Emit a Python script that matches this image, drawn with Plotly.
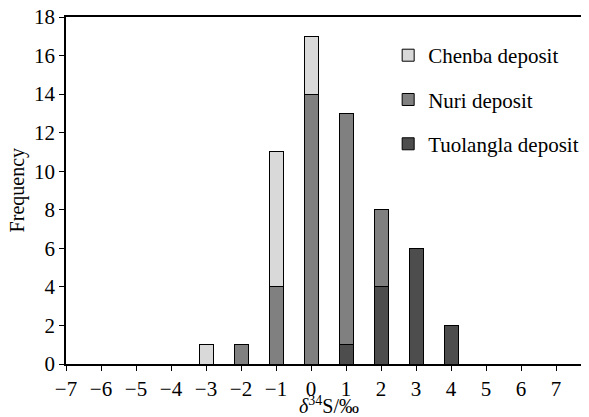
import plotly.graph_objects as go

bins = [-3, -2, -1, 0, 1, 2, 3, 4]
tuolangla = [0, 0, 0, 0, 1, 4, 6, 2]
nuri = [0, 1, 4, 14, 12, 4, 0, 0]
chenba = [1, 0, 7, 3, 0, 0, 0, 0]
x_ticks = list(range(-7, 8))
y_ticks = list(range(0, 19, 2))

font = "Liberation Serif"
fig = go.Figure()
series = [
    ("Tuolangla deposit", tuolangla, "#4d4d4d", 3),
    ("Nuri deposit", nuri, "#808080", 2),
    ("Chenba deposit", chenba, "#d9d9d9", 1),
]
for name, vals, col, rank in series:
    fig.add_trace(go.Bar(
        x=bins, y=vals, name=name, width=0.4, legendgroup=name, legendrank=rank,
        marker=dict(color=col, line=dict(color="black", width=1)),
    ))

# page body has an 8px margin: figure is 581x409 so that it fills the 589x417 window
fig.update_layout(
    barmode="stack",
    width=581, height=409,
    margin=dict(l=58, r=0, t=9, b=53),
    paper_bgcolor="white", plot_bgcolor="white",
    font=dict(family=font, size=21, color="black"),
    showlegend=True,
    legend=dict(
        x=0.616, y=0.948, xanchor="left", yanchor="top",
        traceorder="grouped", tracegroupgap=14,
        font=dict(family=font, size=21), bgcolor="rgba(0,0,0,0)",
    ),
    xaxis=dict(
        range=[-7, 7.94], tickvals=x_ticks,
        ticktext=[str(v).replace("-", "\u2212") for v in x_ticks],
        showline=True, linecolor="black", linewidth=1.5, mirror=True,
        ticks="outside", ticklen=5, tickcolor="black",
        showgrid=False, zeroline=False, automargin=False,
        tickfont=dict(family=font, size=21), ticklabeloverflow="allow",
    ),
    yaxis=dict(
        range=[0, 18], tickvals=y_ticks,
        showline=True, linecolor="black", linewidth=1.5,
        ticks="outside", ticklen=5, tickcolor="black",
        showgrid=False, zeroline=False, automargin=False,
        tickfont=dict(family=font, size=21), ticklabeloverflow="allow",
    ),
    annotations=[
        dict(text="<i>δ</i><sup>34</sup>S/‰", xref="paper", yref="paper",
             x=0.503, y=-0.119, xanchor="center", yanchor="middle",
             showarrow=False, font=dict(family=font, size=20)),
        dict(text="Frequency", xref="paper", yref="paper",
             x=-0.092, y=0.5, xanchor="center", yanchor="middle", textangle=-90,
             showarrow=False, font=dict(family=font, size=20)),
    ],
)
fig.write_html("out.html")
